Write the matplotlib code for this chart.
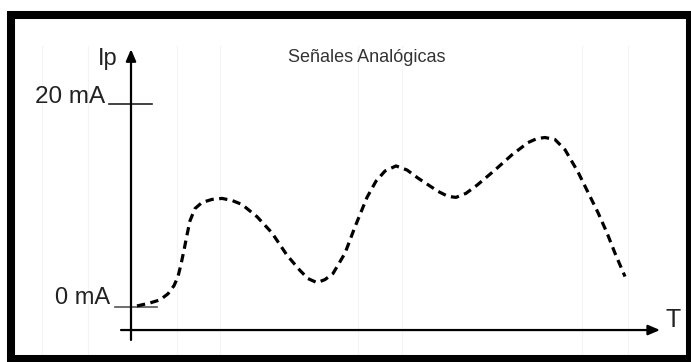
import matplotlib
matplotlib.use("Agg")
import matplotlib.pyplot as plt
from matplotlib.patches import Rectangle

plt.rcParams['font.family'] = ['Liberation Sans', 'DejaVu Sans']

# Data: time (arbitrary units) and current (mA)
t_vals = [0.6, 1.9, 2.9, 3.7, 4.3, 4.7, 5.0, 5.3, 5.6, 5.9, 6.4, 7.1, 8.1, 9.1,
          10.1, 11.1, 12.6, 14.1, 15.6, 16.9, 17.7, 18.6, 19.4, 20.2, 21.4, 22.4,
          23.6, 24.5, 25.4, 26.5, 27.6, 28.7, 30.7, 31.7, 32.5, 33.5, 34.6, 36.4,
          38.1, 39.7, 40.6, 41.4, 42.4, 43.4, 44.7, 45.7, 46.7, 47.6, 48.4, 49.4]
ip_vals = [0.1, 0.4, 0.7, 1.3, 2.1, 3.0, 4.2, 5.6, 7.1, 8.5, 9.7, 10.3, 10.6, 10.7,
           10.5, 10.1, 8.9, 7.3, 5.1, 3.6, 2.8, 2.4, 2.7, 3.3, 5.3, 7.9,
           10.8, 12.4, 13.4, 13.9, 13.5, 12.7, 11.4, 10.9, 10.8, 11.2, 12.0, 13.5,
           15.0, 16.2, 16.6, 16.7, 16.5, 15.5, 13.3, 11.3, 9.3, 7.3, 5.3, 3.0]
level_labels = ["0 mA", "20 mA"]
level_values = [0, 20]
title_text = "Señales Analógicas"
y_label = "Ip"
x_label = "T"
grid_x = [-8.9, -4.3, 4.6, 8.9, 22.7, 27.1, 45.1, 49.7]

fig = plt.figure(figsize=(6.91, 3.62), dpi=100)
ax = fig.add_axes([0, 0, 1, 1])
ax.set_xlim(-13.1, 56.0)
ax.set_ylim(-5.42, 30.25)
ax.axis('off')

# faint vertical background lines
for gx in grid_x:
    ax.plot([gx, gx], [-4.8, 25.7], color='#f4f4f4', lw=0.8, zorder=0)

# frame
fig.patches.append(Rectangle((11/691, 1-359/362), (690-11)/691, (359-15)/362,
                             transform=fig.transFigure, fill=False,
                             edgecolor='black', linewidth=5.8, zorder=10))

# axes arrows
ax.annotate('', xy=(0, 25.4), xytext=(0, -3.25),
            arrowprops=dict(arrowstyle='-|>,head_length=0.7,head_width=0.3',
                            color='black', lw=1.6, shrinkA=0, shrinkB=0))
ax.annotate('', xy=(52.9, -2.27), xytext=(-1.0, -2.27),
            arrowprops=dict(arrowstyle='-|>,head_length=0.7,head_width=0.3',
                            color='black', lw=1.6, shrinkA=0, shrinkB=0))

# level marks
ax.plot([-2.2, 2.1], [level_values[1]] * 2, color='#222222', lw=1.2)
ax.plot([-1.6, 2.6], [level_values[0]] * 2, color='#555555', lw=1.2)
ax.text(-2.6, level_values[1] + 0.7, level_labels[1], ha='right', va='center',
        fontsize=17.5, color='#222222')
ax.text(-2.1, level_values[0] + 0.9, level_labels[0], ha='right', va='center',
        fontsize=17, color='#222222')

ax.text(-2.3, 24.4, y_label, ha='center', va='center', fontsize=17, color='#222222')
ax.text(54.2, -1.3, x_label, ha='center', va='center', fontsize=18, color='#222222')
ax.text(23.6, 24.6, title_text, ha='center', va='center', fontsize=13, color='#333333')

# signal
ax.plot(t_vals, ip_vals, color='black', lw=2.3, linestyle=(0, (2.6, 1.7)),
        dash_capstyle='butt', solid_joinstyle='round')

fig.savefig('out.png', dpi=100)
